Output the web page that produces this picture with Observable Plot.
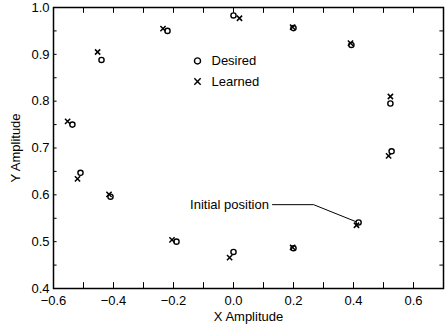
<!DOCTYPE html>
<html>
<head>
<meta charset="utf-8">
<script src="https://cdn.jsdelivr.net/npm/d3@7"></script>
<script src="https://cdn.jsdelivr.net/npm/@observablehq/plot@0.6"></script>
<style>
  body { margin: 0; background: #fff; }
  #chart { width: 445px; height: 326px; }
</style>
</head>
<body>
<div id="chart"></div>
<script>
// Desired positions
const desiredX = [0.0, -0.22, 0.2, 0.393, -0.44, 0.523, -0.537, 0.527, -0.51, -0.41, 0.417, -0.19, 0.0, 0.2];
const desiredY = [0.983, 0.95, 0.956, 0.92, 0.888, 0.795, 0.75, 0.693, 0.647, 0.596, 0.541, 0.5, 0.478, 0.486];
// Learned positions
const learnedX = [0.02, -0.235, 0.197, 0.39, -0.453, 0.523, -0.553, 0.517, -0.52, -0.415, 0.41, -0.205, -0.013, 0.197];
const learnedY = [0.977, 0.955, 0.958, 0.924, 0.905, 0.81, 0.757, 0.683, 0.634, 0.601, 0.535, 0.504, 0.466, 0.488];

const xTickLabels = [-0.6, -0.4, -0.2, 0.0, 0.2, 0.4, 0.6];
const xMinorTicks = [-0.5, -0.4, -0.3, -0.2, -0.1, 0.0, 0.1, 0.2, 0.3, 0.4, 0.5, 0.6];
const yTickLabels = [0.4, 0.5, 0.6, 0.7, 0.8, 0.9, 1.0];
const yMinorTicks = [0.45, 0.5, 0.55, 0.6, 0.65, 0.7, 0.75, 0.8, 0.85, 0.9, 0.95];

const legendLabels = ["Desired", "Learned"];
const legendSymbols = ["circle", "times"];
const legendX = [-0.12, -0.12];
const legendY = [0.886, 0.842];

const annotationText = ["Initial position"];
const annotationX = [0.128];
const annotationY = [0.579];
const leaderX = [0.13, 0.267, 0.407];
const leaderY = [0.579, 0.579, 0.543];

const desired = desiredX.map((x, i) => ({x, y: desiredY[i]}));
const learned = learnedX.map((x, i) => ({x, y: learnedY[i]}));
const legend = legendLabels.map((label, i) => ({label, symbol: legendSymbols[i], x: legendX[i], y: legendY[i]}));
const leader = leaderX.map((x, i) => ({x, y: leaderY[i]}));
const annot = annotationText.map((t, i) => ({t, x: annotationX[i], y: annotationY[i]}));

const fmt = d3.format(".1f");
const plot = Plot.plot({
  width: 445,
  height: 326,
  marginLeft: 53,
  marginRight: 2,
  marginTop: 7,
  marginBottom: 38,
  style: {fontFamily: "'Liberation Sans', Arial, sans-serif", fontSize: "13px", color: "#000", background: "#fff"},
  x: {domain: [-0.6, 0.7]},
  y: {domain: [0.4, 1.0]},
  marks: [
    Plot.frame({stroke: "#000", strokeWidth: 1.5}),
    Plot.axisX({ticks: xTickLabels, tickSize: 0, tickPadding: 7, tickFormat: fmt, fontSize: 13,
      label: "X Amplitude", labelAnchor: "center", labelArrow: "none", labelOffset: 32}),
    Plot.axisY({ticks: yTickLabels, tickSize: 0, tickPadding: 4, tickFormat: fmt, fontSize: 13,
      label: "Y Amplitude", labelAnchor: "center", labelArrow: "none", labelOffset: 43}),
    // inward ticks
    Plot.ruleX(xMinorTicks, {x: d => d, y1: 0.4, y2: 0.4125, stroke: "#000"}),
    Plot.ruleX(xMinorTicks, {x: d => d, y1: 1.0, y2: 0.9875, stroke: "#000"}),
    Plot.ruleY(yMinorTicks, {y: d => d, x1: -0.6, x2: -0.588, stroke: "#000"}),
    Plot.ruleY(yMinorTicks, {y: d => d, x1: 0.7, x2: 0.688, stroke: "#000"}),
    // data
    Plot.dot(desired, {x: "x", y: "y", r: 2.6, stroke: "#000", strokeWidth: 1.4, fill: "none"}),
    Plot.dot(learned, {x: "x", y: "y", r: 2.5, symbol: "times", stroke: "#000", strokeWidth: 1.5}),
    // legend
    Plot.dot(legend, {x: "x", y: "y", symbol: "symbol", r: d => d.symbol === "times" ? 2.5 : 2.6, stroke: "#000", strokeWidth: 1.4, fill: "none"}),
    Plot.text(legend, {x: "x", y: "y", text: "label", dx: 14, textAnchor: "start", fontSize: 13, fill: "#000"}),
    // annotation
    Plot.line(leader, {x: "x", y: "y", stroke: "#000", strokeWidth: 1}),
    Plot.text(annot, {x: "x", y: "y", text: "t", textAnchor: "end", dx: -3, fontSize: 13, fill: "#000"})
  ]
});
document.getElementById("chart").appendChild(plot);
</script>
</body>
</html>
